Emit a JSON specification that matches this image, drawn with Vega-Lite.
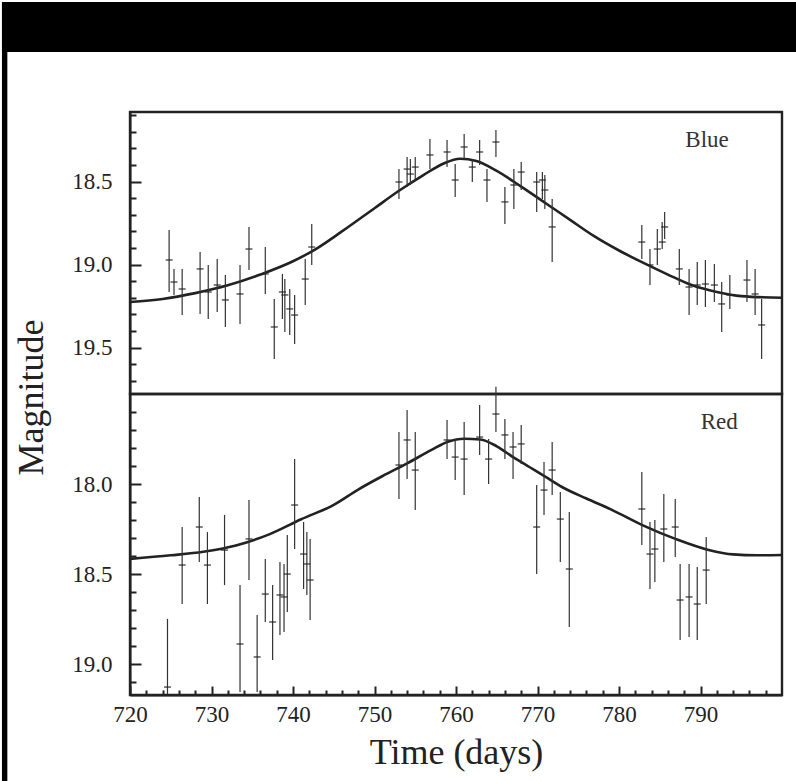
{
  "$schema": "https://vega.github.io/schema/vega-lite/v6.json",
  "background": "white",
  "padding": 0,
  "bounds": "flush",
  "spacing": 0,
  "config": {
    "font": "Liberation Serif",
    "view": {"stroke": "#222", "strokeWidth": 2.4},
    "axis": {
      "labelFont": "Liberation Serif", "titleFont": "Liberation Serif",
      "labelColor": "#222", "titleColor": "#222", "domainColor": "#222", "tickColor": "#222",
      "domainWidth": 2, "tickWidth": 2, "labelFontSize": 23, "titleFontSize": 36,
      "titleFontWeight": "normal", "grid": false, "labelOverlap": false, "labelFlush": false,
      "zindex": 1, "ticks": true, "tickCount": 100
    }
  },
  "datasets": {
    "blue": [
      {"d":724.8,"m":18.972,"lo":18.791,"hi":19.165},{"d":725.4,"m":19.105,"lo":19.026,"hi":19.183},
      {"d":726.4,"m":19.147,"lo":19.026,"hi":19.304},{"d":728.6,"m":19.026,"lo":18.924,"hi":19.298},
      {"d":729.6,"m":19.165,"lo":19.002,"hi":19.328},{"d":730.7,"m":19.123,"lo":18.966,"hi":19.286},
      {"d":731.7,"m":19.213,"lo":19.063,"hi":19.376},{"d":733.5,"m":19.177,"lo":19.002,"hi":19.358},
      {"d":734.6,"m":18.906,"lo":18.773,"hi":19.032},{"d":736.6,"m":19.056,"lo":18.894,"hi":19.177},
      {"d":737.7,"m":19.376,"lo":19.207,"hi":19.569},{"d":738.7,"m":19.165,"lo":19.056,"hi":19.328},
      {"d":739.0,"m":19.183,"lo":19.087,"hi":19.406},{"d":739.6,"m":19.267,"lo":19.147,"hi":19.424},
      {"d":740.2,"m":19.304,"lo":19.183,"hi":19.478},{"d":741.5,"m":19.087,"lo":18.966,"hi":19.243},
      {"d":742.3,"m":18.894,"lo":18.755,"hi":19.002},{"d":753.0,"m":18.502,"lo":18.424,"hi":18.604},
      {"d":754.0,"m":18.424,"lo":18.351,"hi":18.532},{"d":754.4,"m":18.454,"lo":18.363,"hi":18.52},
      {"d":755.0,"m":18.412,"lo":18.351,"hi":18.484},{"d":756.8,"m":18.339,"lo":18.243,"hi":18.424},
      {"d":758.9,"m":18.321,"lo":18.249,"hi":18.412},{"d":759.9,"m":18.49,"lo":18.393,"hi":18.592},
      {"d":761.0,"m":18.291,"lo":18.213,"hi":18.363},{"d":762.0,"m":18.412,"lo":18.363,"hi":18.502},
      {"d":762.9,"m":18.321,"lo":18.249,"hi":18.399},{"d":763.8,"m":18.49,"lo":18.424,"hi":18.622},
      {"d":764.9,"m":18.261,"lo":18.189,"hi":18.351},{"d":766.0,"m":18.622,"lo":18.532,"hi":18.755},
      {"d":767.1,"m":18.52,"lo":18.424,"hi":18.665},{"d":768.0,"m":18.442,"lo":18.381,"hi":18.55},
      {"d":769.9,"m":18.502,"lo":18.442,"hi":18.683},{"d":770.6,"m":18.49,"lo":18.442,"hi":18.604},
      {"d":770.9,"m":18.55,"lo":18.46,"hi":18.665},{"d":771.8,"m":18.773,"lo":18.604,"hi":18.984},
      {"d":782.8,"m":18.864,"lo":18.761,"hi":18.966},{"d":783.8,"m":19.002,"lo":18.906,"hi":19.123},
      {"d":784.7,"m":18.906,"lo":18.785,"hi":19.002},{"d":785.3,"m":18.864,"lo":18.743,"hi":18.906},
      {"d":785.6,"m":18.773,"lo":18.683,"hi":18.846},{"d":787.4,"m":19.026,"lo":18.906,"hi":19.123},
      {"d":788.6,"m":19.135,"lo":19.026,"hi":19.304},{"d":789.6,"m":19.123,"lo":18.984,"hi":19.243},
      {"d":790.6,"m":19.117,"lo":18.972,"hi":19.255},{"d":791.7,"m":19.123,"lo":18.996,"hi":19.225},
      {"d":792.6,"m":19.237,"lo":19.105,"hi":19.406},{"d":793.6,"m":19.183,"lo":19.063,"hi":19.267},
      {"d":795.7,"m":19.093,"lo":18.972,"hi":19.225},{"d":796.7,"m":19.177,"lo":19.026,"hi":19.304},
      {"d":797.5,"m":19.364,"lo":19.207,"hi":19.569}
    ],
    "red": [
      {"d":724.6,"m":19.126,"lo":18.748,"hi":19.165},{"d":726.4,"m":18.449,"lo":18.238,"hi":18.665},
      {"d":728.5,"m":18.238,"lo":18.071,"hi":18.432},{"d":729.5,"m":18.449,"lo":18.266,"hi":18.665},
      {"d":731.6,"m":18.366,"lo":18.171,"hi":18.56},{"d":733.5,"m":18.887,"lo":18.56,"hi":19.153},
      {"d":734.6,"m":18.304,"lo":18.088,"hi":18.532},{"d":735.6,"m":18.959,"lo":18.726,"hi":19.153},
      {"d":736.6,"m":18.61,"lo":18.415,"hi":18.765},{"d":737.5,"m":18.765,"lo":18.56,"hi":18.976},
      {"d":738.4,"m":18.615,"lo":18.432,"hi":18.837},{"d":738.9,"m":18.626,"lo":18.443,"hi":18.82},
      {"d":739.3,"m":18.499,"lo":18.282,"hi":18.71},{"d":740.2,"m":18.116,"lo":17.861,"hi":18.36},
      {"d":741.3,"m":18.388,"lo":18.21,"hi":18.582},{"d":741.7,"m":18.443,"lo":18.266,"hi":18.615},
      {"d":742.1,"m":18.532,"lo":18.304,"hi":18.754},{"d":753.0,"m":17.894,"lo":17.711,"hi":18.083},
      {"d":754.0,"m":17.755,"lo":17.589,"hi":17.972},{"d":755.0,"m":17.922,"lo":17.711,"hi":18.144},
      {"d":758.9,"m":17.755,"lo":17.644,"hi":17.861},{"d":759.9,"m":17.85,"lo":17.75,"hi":17.977},
      {"d":761.0,"m":17.861,"lo":17.655,"hi":18.06},{"d":762.9,"m":17.739,"lo":17.561,"hi":17.838},
      {"d":764.0,"m":17.861,"lo":17.75,"hi":17.999},{"d":764.9,"m":17.611,"lo":17.46,"hi":17.711},
      {"d":766.0,"m":17.727,"lo":17.639,"hi":17.861},{"d":767.0,"m":17.794,"lo":17.711,"hi":17.972},
      {"d":768.0,"m":17.777,"lo":17.672,"hi":17.888},{"d":769.9,"m":18.238,"lo":18.005,"hi":18.499},
      {"d":770.8,"m":18.033,"lo":17.877,"hi":18.171},{"d":771.8,"m":17.922,"lo":17.766,"hi":18.06},
      {"d":772.8,"m":18.194,"lo":18.044,"hi":18.432},{"d":773.9,"m":18.471,"lo":18.155,"hi":18.793},
      {"d":782.8,"m":18.138,"lo":17.933,"hi":18.338},{"d":783.8,"m":18.388,"lo":18.21,"hi":18.582},
      {"d":784.4,"m":18.36,"lo":18.199,"hi":18.543},{"d":785.5,"m":18.249,"lo":18.055,"hi":18.432},
      {"d":786.9,"m":18.238,"lo":18.083,"hi":18.404},{"d":787.5,"m":18.643,"lo":18.443,"hi":18.865},
      {"d":788.6,"m":18.626,"lo":18.443,"hi":18.848},{"d":789.6,"m":18.665,"lo":18.46,"hi":18.865},
      {"d":790.7,"m":18.477,"lo":18.293,"hi":18.665}
    ],
    "blueCurve": [
      {"d":720,"m":19.225},{"d":724,"m":19.207},{"d":728,"m":19.172},{"d":732,"m":19.125},
      {"d":736,"m":19.06},{"d":740,"m":18.98},{"d":743,"m":18.9},{"d":746,"m":18.8},
      {"d":750,"m":18.66},{"d":753,"m":18.555},{"d":756,"m":18.46},{"d":758.5,"m":18.39},
      {"d":760.5,"m":18.362},{"d":762.5,"m":18.375},{"d":765,"m":18.435},{"d":768,"m":18.53},
      {"d":771,"m":18.63},{"d":774,"m":18.73},{"d":777,"m":18.83},{"d":780,"m":18.915},
      {"d":783,"m":18.99},{"d":786,"m":19.06},{"d":789,"m":19.125},{"d":792,"m":19.165},
      {"d":795,"m":19.19},{"d":800,"m":19.2}
    ],
    "redCurve": [
      {"d":720,"m":18.415},{"d":725,"m":18.395},{"d":729,"m":18.375},{"d":733,"m":18.34},
      {"d":737,"m":18.28},{"d":741,"m":18.195},{"d":745,"m":18.115},{"d":748,"m":18.03},
      {"d":751,"m":17.955},{"d":754,"m":17.885},{"d":757,"m":17.81},{"d":759,"m":17.765},
      {"d":761,"m":17.748},{"d":763,"m":17.752},{"d":765,"m":17.79},{"d":767,"m":17.85},
      {"d":769,"m":17.905},{"d":771,"m":17.96},{"d":773,"m":18.016},{"d":776,"m":18.08},
      {"d":779,"m":18.14},{"d":783,"m":18.23},{"d":787,"m":18.305},{"d":791,"m":18.365},
      {"d":794,"m":18.39},{"d":797,"m":18.395},{"d":800,"m":18.393}
    ]
  },
  "vconcat": [
    {
      "width": 652,
      "height": 282,
      "layer": [
        {
          "data": {"values": [{}]},
          "mark": {"type": "rect", "color": "black", "clip": false},
          "encoding": {
            "x": {"datum": 704.29, "type": "quantitative", "scale": {"domain": [720, 800], "nice": false, "zero": false}, "axis": null},
            "x2": {"datum": 801.96},
            "y": {"datum": 17.417, "type": "quantitative", "scale": {"domain": [18.08, 19.78], "reverse": true, "nice": false, "zero": false}},
            "y2": {"datum": 17.718}
          }
        },
        {
          "data": {"values": [{}]},
          "mark": {"type": "rect", "color": "black", "clip": false},
          "encoding": {
            "x": {"datum": 704.29, "type": "quantitative", "scale": {"domain": [720, 800], "nice": false, "zero": false}, "axis": null},
            "x2": {"datum": 704.95},
            "y": {"datum": 17.417, "type": "quantitative", "scale": {"domain": [18.08, 19.78], "reverse": true, "nice": false, "zero": false}},
            "y2": {"datum": 22.125}
          }
        },
        {
          "data": {"name": "blueCurve"},
          "mark": {"type": "line", "color": "#222", "strokeWidth": 2.6, "interpolate": "monotone"},
          "encoding": {
            "x": {"field": "d", "type": "quantitative", "scale": {"domain": [720, 800], "nice": false, "zero": false}, "axis": null},
            "y": {"field": "m", "type": "quantitative", "scale": {"domain": [18.08, 19.78], "reverse": true, "nice": false, "zero": false},
              "axis": {
                "title": "Magnitude", "titleY": 285, "titlePadding": 21,
                "values": [18.1,18.2,18.3,18.4,18.5,18.6,18.7,18.8,18.9,19.0,19.1,19.2,19.3,19.4,19.5,19.6,19.7],
                "tickCount": 100,
                "labelExpr": "abs(round(datum.value*10) % 5) == 0 ? format(datum.value, '.1f') : ''",
                "labelOverlap": false, "zindex": 1,
                "tickSize": {"condition": {"test": "abs(round(datum.value*10) % 5) == 0", "value": -11}, "value": -6},
                "labelPadding": 29
              }
            }
          }
        },
        {
          "data": {"name": "blue"},
          "mark": {"type": "rule", "color": "#333", "strokeWidth": 1.2},
          "encoding": {
            "x": {"field": "d", "type": "quantitative"},
            "y": {"field": "lo", "type": "quantitative"},
            "y2": {"field": "hi"}
          }
        },
        {
          "data": {"name": "blue"},
          "mark": {"type": "tick", "orient": "horizontal", "size": 7, "thickness": 1.6, "color": "#222"},
          "encoding": {
            "x": {"field": "d", "type": "quantitative"},
            "y": {"field": "m", "type": "quantitative"}
          }
        },
        {
          "data": {"values": [{}]},
          "mark": {"type": "text", "font": "Liberation Serif", "fontSize": 23, "color": "#333", "align": "center", "baseline": "middle"},
          "encoding": {
            "x": {"datum": 790.8, "type": "quantitative"},
            "y": {"datum": 18.249, "type": "quantitative"},
            "text": {"value": "Blue"}
          }
        }
      ]
    },
    {
      "width": 652,
      "height": 301,
      "layer": [
        {
          "data": {"name": "redCurve"},
          "mark": {"type": "line", "color": "#222", "strokeWidth": 2.6, "interpolate": "monotone"},
          "encoding": {
            "x": {"field": "d", "type": "quantitative", "scale": {"domain": [720, 800], "nice": false, "zero": false},
              "axis": {
                "title": "Time (days)", "titlePadding": 5,
                "values": [720,722,724,726,728,730,732,734,736,738,740,742,744,746,748,750,752,754,756,758,760,762,764,766,768,770,772,774,776,778,780,782,784,786,788,790,792,794,796,798],
                "tickCount": 100,
                "labelExpr": "datum.value % 10 == 0 ? datum.label : ''",
                "labelOverlap": false, "zindex": 1,
                "tickSize": {"condition": {"test": "datum.value % 10 == 0", "value": -9}, "value": -5},
                "labelPadding": 17
              }
            },
            "y": {"field": "m", "type": "quantitative", "scale": {"domain": [17.5, 19.17], "reverse": true, "nice": false, "zero": false},
              "axis": {
                "title": null,
                "values": [17.6,17.7,17.8,17.9,18.0,18.1,18.2,18.3,18.4,18.5,18.6,18.7,18.8,18.9,19.0,19.1],
                "tickCount": 100,
                "labelExpr": "abs(round(datum.value*10) % 5) == 0 ? format(datum.value, '.1f') : ''",
                "labelOverlap": false, "zindex": 1,
                "tickSize": {"condition": {"test": "abs(round(datum.value*10) % 5) == 0", "value": -11}, "value": -6},
                "labelPadding": 29
              }
            }
          }
        },
        {
          "data": {"name": "red"},
          "mark": {"type": "rule", "color": "#333", "strokeWidth": 1.2},
          "encoding": {
            "x": {"field": "d", "type": "quantitative"},
            "y": {"field": "lo", "type": "quantitative"},
            "y2": {"field": "hi"}
          }
        },
        {
          "data": {"name": "red"},
          "mark": {"type": "tick", "orient": "horizontal", "size": 7, "thickness": 1.6, "color": "#222"},
          "encoding": {
            "x": {"field": "d", "type": "quantitative"},
            "y": {"field": "m", "type": "quantitative"}
          }
        },
        {
          "data": {"values": [{}]},
          "mark": {"type": "text", "font": "Liberation Serif", "fontSize": 23, "color": "#333", "align": "center", "baseline": "middle"},
          "encoding": {
            "x": {"datum": 792.3, "type": "quantitative"},
            "y": {"datum": 17.655, "type": "quantitative"},
            "text": {"value": "Red"}
          }
        }
      ]
    }
  ]
}
